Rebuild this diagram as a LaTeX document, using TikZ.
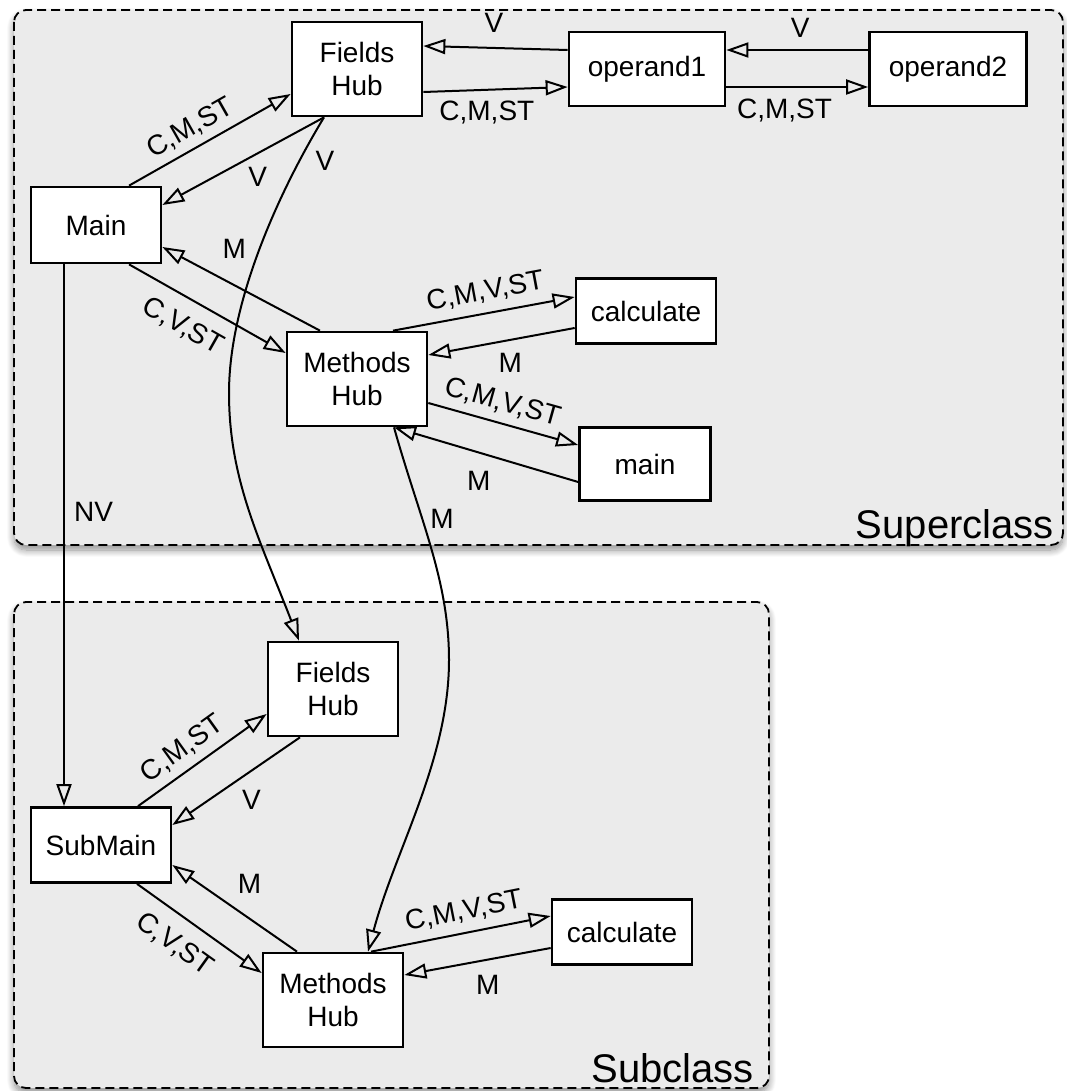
\documentclass[tikz,border=0pt]{standalone}
\usepackage{fontspec}
\setmainfont{Liberation Sans}
\usetikzlibrary{arrows.meta,shadows.blur}
\definecolor{groupgray}{RGB}{235,235,235}

\begin{document}
\begin{tikzpicture}[x=1pt,y=-1pt,
  every node/.style={font=\fontsize{28}{33}\selectfont},
  unit/.style={draw=black, fill=white, line width=2.7pt, inner sep=0pt, align=center},
  group/.style={draw=black, fill=groupgray, line width=1.8pt, dash pattern=on 9pt off 5pt,
    rounded corners=12pt,
    blur shadow={shadow xshift=0pt, shadow yshift=-5pt, shadow blur radius=7pt,
      shadow blur steps=10, shadow opacity=45}},
  link/.style={line width=2pt, -{Triangle[open, length=22pt, width=15pt]}},
  lbl/.style={inner sep=0pt},
  grouptitle/.style={font=\fontsize{40}{44}\selectfont, anchor=base east, inner sep=0pt},
]
\useasboundingbox (0,0) rectangle (1066,1091);

% class containers
\draw[group] (14,10) rectangle (1063,545);
\node[grouptitle] (suptitle) at (1054,538) {Superclass};
\draw[group] (14,602) rectangle (769,1088);
\node[grouptitle] (subtitle) at (754,1082) {Subclass};

% superclass members
\node[unit, minimum width=130pt, minimum height=94pt] (fh)    at (357,69)  {Fields\\Hub};
\node[unit, minimum width=130pt, minimum height=76pt] (main)  at (96,225)  {Main};
\node[unit, minimum width=156pt, minimum height=74pt] (op1)   at (647,69)  {operand1};
\node[unit, minimum width=157pt, minimum height=74pt] (op2)   at (948,69)  {operand2};
\node[unit, minimum width=140pt, minimum height=94pt] (mh)    at (357,379) {Methods\\Hub};
\node[unit, minimum width=140pt, minimum height=65pt] (calc)  at (646,311) {calculate};
\node[unit, minimum width=131pt, minimum height=73pt] (mainm) at (645,464) {main};

% subclass members
\node[unit, minimum width=130pt, minimum height=94pt] (sfh)   at (333,689)  {Fields\\Hub};
\node[unit, minimum width=140pt, minimum height=75pt] (smain) at (101,845)  {SubMain};
\node[unit, minimum width=140pt, minimum height=94pt] (smh)   at (333,1000) {Methods\\Hub};
\node[unit, minimum width=140pt, minimum height=65pt] (scalc) at (622,932)  {calculate};

% superclass links
\draw[link] ([xshift=33pt]main.north) -- node[lbl,pos=0.44,sloped,above=7pt]{C,M,ST} ([yshift=-25pt]fh.west);
\draw[link] ([xshift=-33pt]fh.south) -- node[lbl,pos=0.41,yshift=-24pt]{V} ([yshift=20pt]main.east);
\draw[link] ([xshift=33pt]main.south) -- node[lbl,pos=0.43,sloped,below=15pt]{C,V,ST} ([yshift=26pt]mh.west);
\draw[link] ([xshift=-37pt]mh.north) -- node[lbl,pos=0.5,xshift=-7pt,yshift=39.5pt]{M} ([yshift=-22pt]main.east);
\draw[link] ([xshift=36pt]mh.north) -- node[lbl,pos=0.53,sloped,above=9pt]{C,M,V,ST} ([yshift=14pt]calc.west);
\draw[link] ([yshift=-17pt]calc.west) -- node[lbl,pos=0.44,yshift=-23pt]{M} ([yshift=24pt]mh.east);
\draw[link] ([yshift=-24pt]mh.east) -- node[lbl,pos=0.46,sloped,above=8pt]{C,M,V,ST} ([yshift=19pt]mainm.west);
\draw[link] ([yshift=-18pt]mainm.west) -- node[lbl,pos=0.54,yshift=-28pt]{M} ([xshift=37pt]mh.south);
\draw[link] ([yshift=-23pt]fh.east) -- node[lbl,pos=0.44,yshift=-23pt]{C,M,ST} ([yshift=-18pt]op1.west);
\draw[link] ([yshift=19pt]op1.west) -- node[lbl,pos=0.51,yshift=25pt]{V} ([yshift=23pt]fh.east);
\draw[link] ([yshift=19pt]op2.west) -- node[lbl,pos=0.48,yshift=22pt]{V} ([yshift=19pt]op1.east);
\draw[link] ([yshift=-18pt]op1.east) -- node[lbl,pos=0.41,yshift=-24pt]{C,M,ST} ([yshift=-18pt]op2.west);

% links from superclass into subclass
\draw[link] ([xshift=-33pt]fh.south) .. controls (280,190) and (229,300)
  .. node[lbl,pos=0.15,xshift=21pt,yshift=-8pt]{V} (229,393)
  .. controls (229,480) and (260,540) .. ([xshift=-34pt]sfh.north);
\draw[link] ([xshift=37pt]mh.south) .. controls (420,520) and (449,580)
  .. node[lbl,pos=0.4,xshift=17.5pt,yshift=7.8pt]{M} (449,660)
  .. controls (449,760) and (395,850) .. ([xshift=35pt]smh.north);
\draw[link] ([xshift=-32pt]main.south) -- node[lbl,pos=0.457,xshift=29.5pt]{NV} ([xshift=-37pt]smain.north);

% subclass links
\draw[link] ([xshift=37pt]smain.north) -- node[lbl,pos=0.44,sloped,above=8pt]{C,M,ST} ([yshift=-25pt]sfh.west);
\draw[link] ([xshift=-33pt]sfh.south) -- node[lbl,pos=0.38,yshift=-29pt]{V} ([yshift=20pt]smain.east);
\draw[link] ([xshift=36pt]smain.south) -- node[lbl,pos=0.43,sloped,below=15pt]{C,V,ST} ([yshift=27pt]smh.west);
\draw[link] ([xshift=-36pt]smh.north) -- node[lbl,pos=0.38,yshift=34.5pt]{M} ([yshift=-20pt]smain.east);
\draw[link] ([xshift=38pt]smh.north) -- node[lbl,pos=0.54,sloped,above=9pt]{C,M,V,ST} ([yshift=16pt]scalc.west);
\draw[link] ([yshift=-16pt]scalc.west) -- node[lbl,pos=0.43,yshift=-25pt]{M} ([yshift=25pt]smh.east);
\end{tikzpicture}
\end{document}
